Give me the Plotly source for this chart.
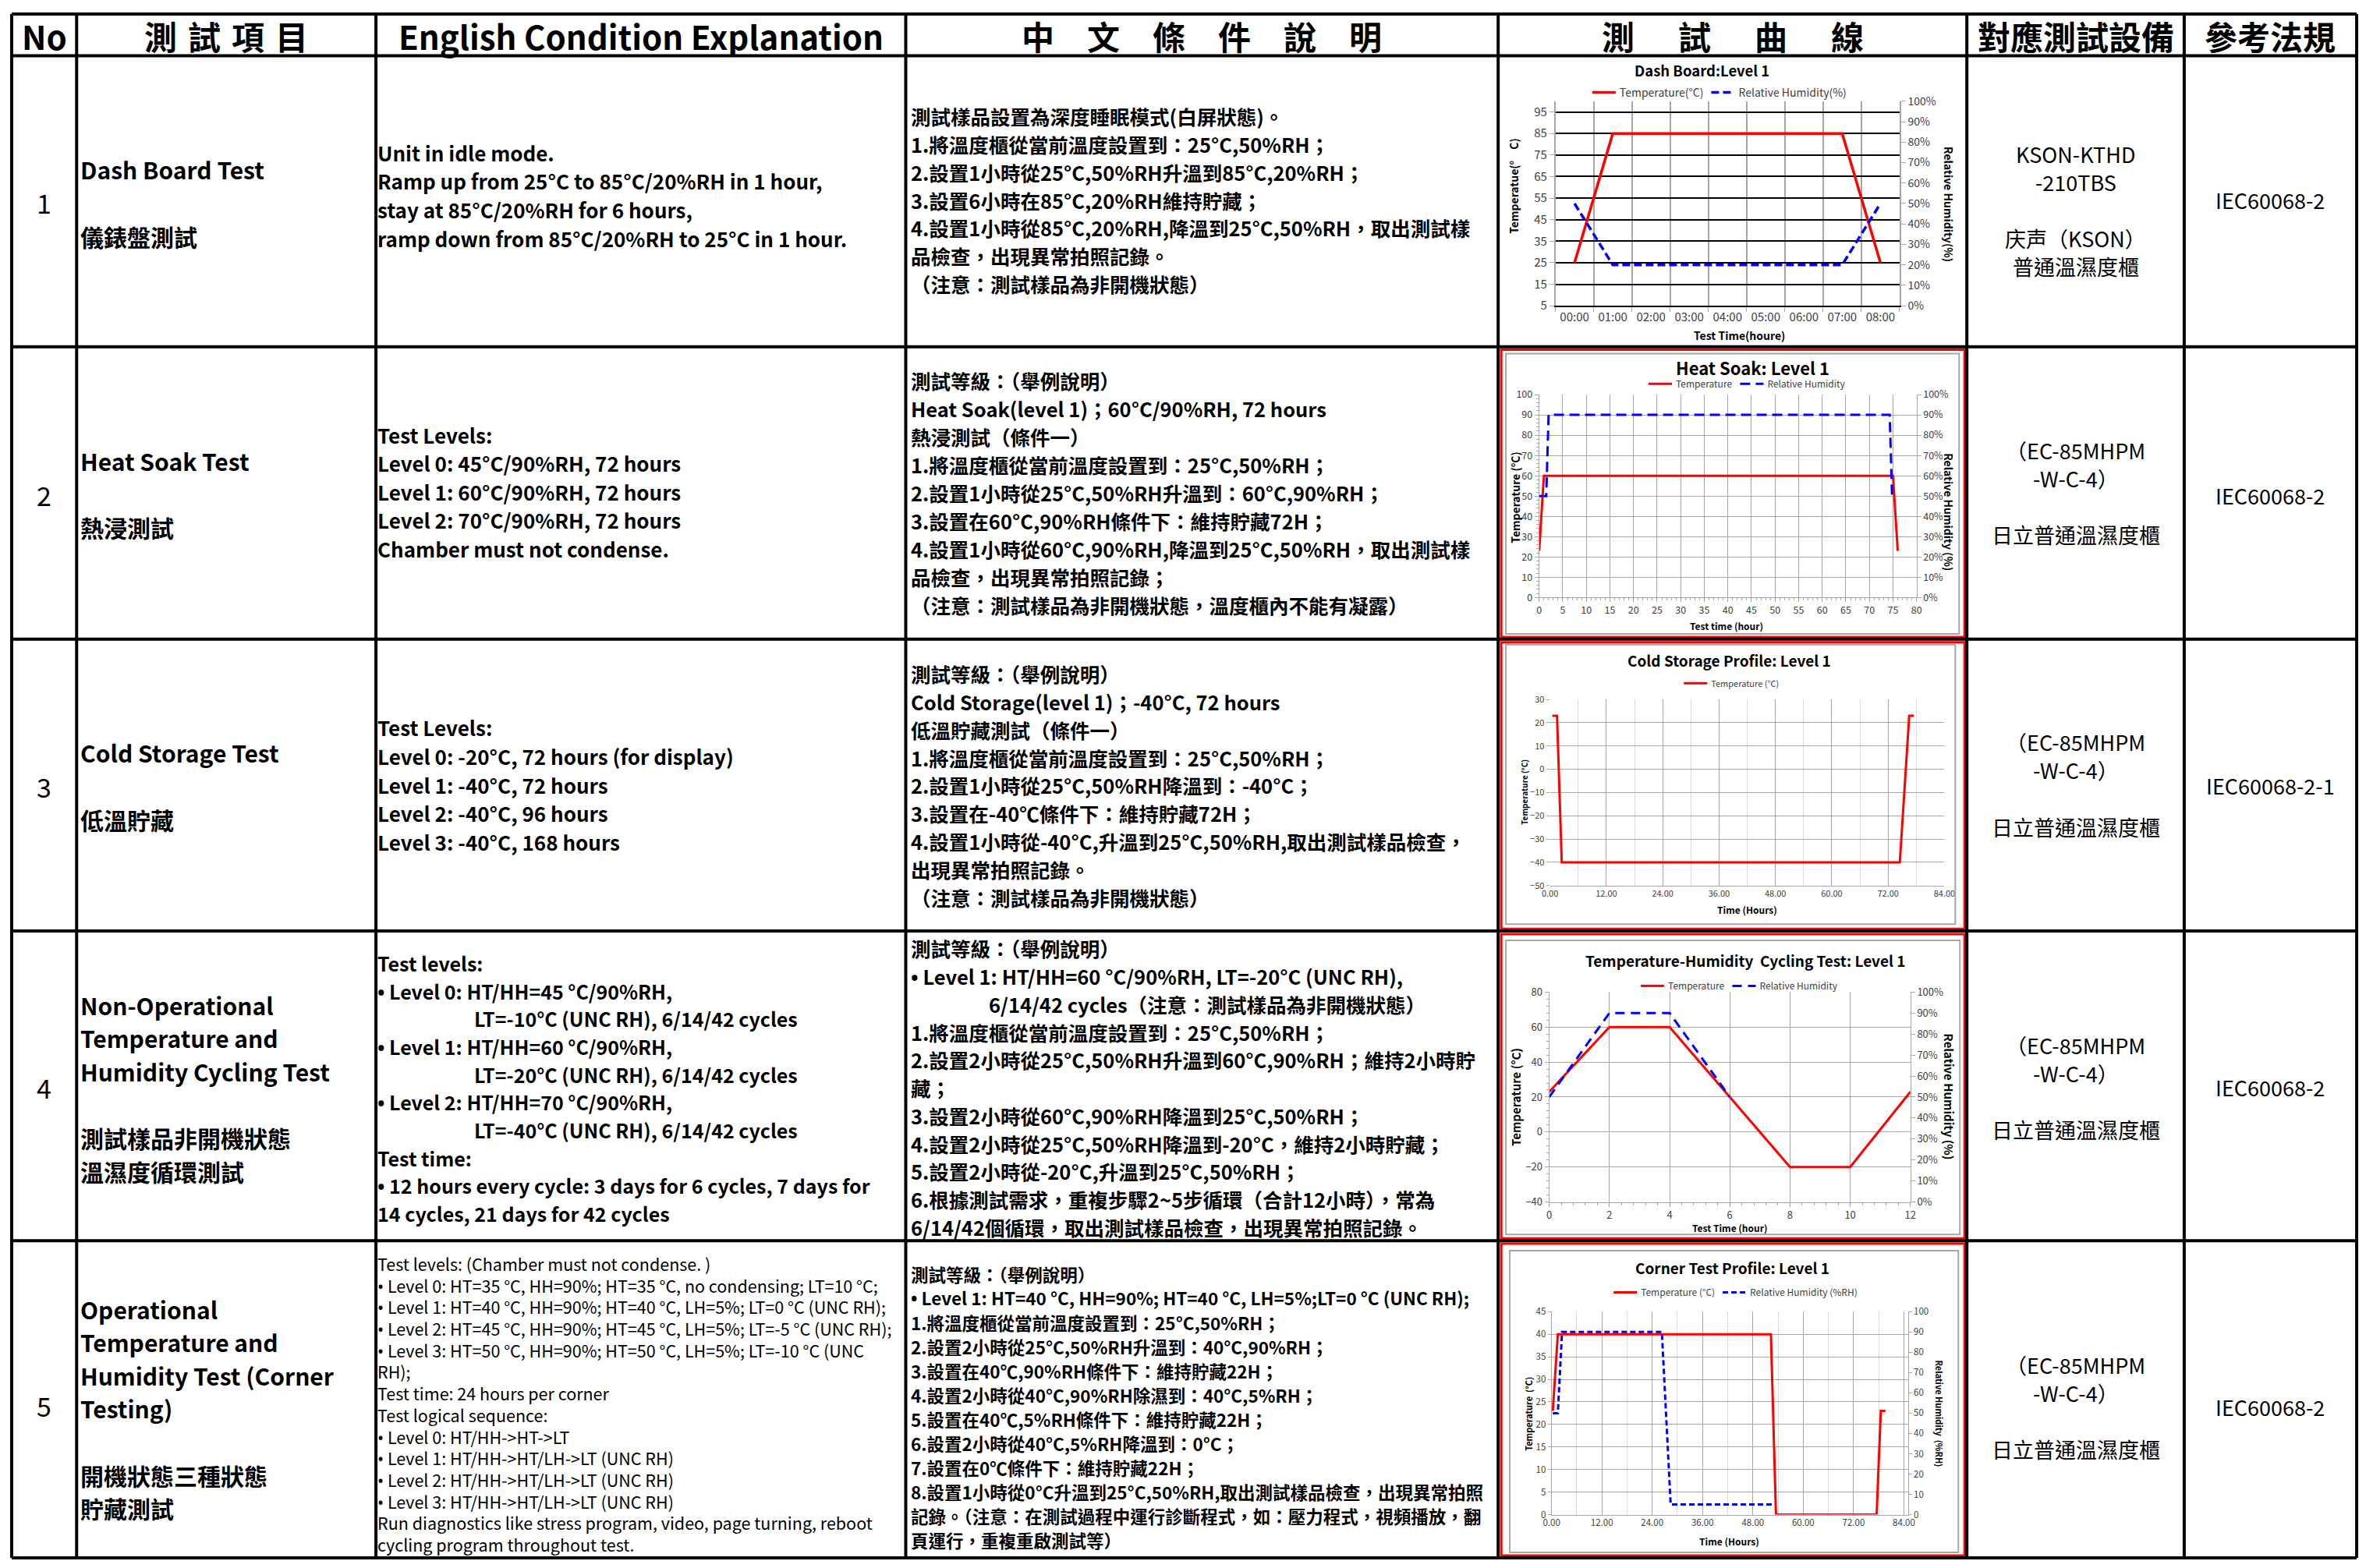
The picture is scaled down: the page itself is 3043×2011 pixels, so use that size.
import plotly.graph_objects as go

# ---------------------------------------------------------------- data
header_labels = ["No", "測\u2004試\u2004項\u2004目", "English Condition Explanation",
                 "中\u3000文\u3000條\u3000件\u3000說\u3000明", "測\u3000\u2004試\u3000\u2004曲\u3000\u2004線",
                 "對應測試設備", "參考法規"]
row_numbers = ["1", "2", "3", "4", "5"]
test_item_lines = [
    ["Dash Board Test", "", "儀錶盤測試"],
    ["Heat Soak Test", "", "熱浸測試"],
    ["Cold Storage Test", "", "低溫貯藏"],
    ["Non-Operational", "Temperature and", "Humidity Cycling Test", "", "測試樣品非開機狀態", "溫濕度循環測試"],
    ["Operational", "Temperature and", "Humidity Test (Corner", "Testing)", "", "開機狀態三種狀態", "貯藏測試"],
]
english_lines = [
    ["Unit in idle mode.", "Ramp up from 25°C to 85°C/20%RH in 1 hour,",
     "stay at 85°C/20%RH for 6 hours,", "ramp down from 85°C/20%RH to 25°C in 1 hour."],
    ["Test Levels:", "Level 0: 45°C/90%RH, 72 hours", "Level 1: 60°C/90%RH, 72 hours",
     "Level 2: 70°C/90%RH, 72 hours", "Chamber must not condense."],
    ["Test Levels:", "Level 0: -20°C, 72 hours (for display)", "Level 1: -40°C, 72 hours",
     "Level 2: -40°C, 96 hours", "Level 3: -40°C, 168 hours"],
    ["Test levels:", "• Level 0: HT/HH=45 °C/90%RH,", "LT=-10°C (UNC RH), 6/14/42 cycles",
     "• Level 1: HT/HH=60 °C/90%RH,", "LT=-20°C (UNC RH), 6/14/42 cycles",
     "• Level 2: HT/HH=70 °C/90%RH,", "LT=-40°C (UNC RH), 6/14/42 cycles", "Test time:",
     "• 12 hours every cycle: 3 days for 6 cycles, 7 days for", "14 cycles, 21 days for 42 cycles"],
    ["Test levels: (Chamber must not condense. )",
     "• Level 0: HT=35 °C, HH=90%; HT=35 °C, no condensing; LT=10 °C;",
     "• Level 1: HT=40 °C, HH=90%; HT=40 °C, LH=5%; LT=0 °C (UNC RH);",
     "• Level 2: HT=45 °C, HH=90%; HT=45 °C, LH=5%; LT=-5 °C (UNC RH);",
     "• Level 3: HT=50 °C, HH=90%; HT=50 °C, LH=5%; LT=-10 °C (UNC", "RH);",
     "Test time: 24 hours per corner", "Test logical sequence:",
     "• Level 0: HT/HH->HT->LT", "• Level 1: HT/HH->HT/LH->LT (UNC RH)",
     "• Level 2: HT/HH->HT/LH->LT (UNC RH)", "• Level 3: HT/HH->HT/LH->LT (UNC RH)",
     "Run diagnostics like stress program, video, page turning, reboot",
     "cycling program throughout test."],
]
chinese_lines = [
    ["測試樣品設置為深度睡眠模式(白屏狀態)。", "1.將溫度櫃從當前溫度設置到：25°C,50%RH；",
     "2.設置1小時從25°C,50%RH升溫到85°C,20%RH；", "3.設置6小時在85°C,20%RH維持貯藏；",
     "4.設置1小時從85°C,20%RH,降溫到25°C,50%RH，取出測試樣", "品檢查，出現異常拍照記錄。",
     "（注意：測試樣品為非開機狀態）"],
    ["測試等級：（舉例說明）", "Heat Soak(level 1)；60°C/90%RH, 72 hours", "熱浸測試（條件一）",
     "1.將溫度櫃從當前溫度設置到：25°C,50%RH；", "2.設置1小時從25°C,50%RH升溫到：60°C,90%RH；",
     "3.設置在60°C,90%RH條件下：維持貯藏72H；",
     "4.設置1小時從60°C,90%RH,降溫到25°C,50%RH，取出測試樣", "品檢查，出現異常拍照記錄；",
     "（注意：測試樣品為非開機狀態，溫度櫃內不能有凝露）"],
    ["測試等級：（舉例說明）", "Cold Storage(level 1)；-40°C, 72 hours", "低溫貯藏測試（條件一）",
     "1.將溫度櫃從當前溫度設置到：25°C,50%RH；", "2.設置1小時從25°C,50%RH降溫到：-40°C；",
     "3.設置在-40℃條件下：維持貯藏72H；", "4.設置1小時從-40°C,升溫到25°C,50%RH,取出測試樣品檢查，",
     "出現異常拍照記錄。", "（注意：測試樣品為非開機狀態）"],
    ["測試等級：（舉例說明）", "• Level 1: HT/HH=60 °C/90%RH, LT=-20°C (UNC RH),",
     "6/14/42 cycles（注意：測試樣品為非開機狀態）", "1.將溫度櫃從當前溫度設置到：25°C,50%RH；",
     "2.設置2小時從25°C,50%RH升溫到60°C,90%RH；維持2小時貯", "藏；",
     "3.設置2小時從60°C,90%RH降溫到25°C,50%RH；", "4.設置2小時從25°C,50%RH降溫到-20°C，維持2小時貯藏；",
     "5.設置2小時從-20°C,升溫到25°C,50%RH；", "6.根據測試需求，重複步驟2~5步循環（合計12小時），常為",
     "6/14/42個循環，取出測試樣品檢查，出現異常拍照記錄。"],
    ["測試等級：（舉例說明）", "• Level 1: HT=40 °C, HH=90%; HT=40 °C, LH=5%;LT=0 °C (UNC RH);",
     "1.將溫度櫃從當前溫度設置到：25°C,50%RH；", "2.設置2小時從25°C,50%RH升溫到：40°C,90%RH；",
     "3.設置在40℃,90%RH條件下：維持貯藏22H；", "4.設置2小時從40°C,90%RH除濕到：40°C,5%RH；",
     "5.設置在40℃,5%RH條件下：維持貯藏22H；", "6.設置2小時從40°C,5%RH降溫到：0°C；",
     "7.設置在0℃條件下：維持貯藏22H；", "8.設置1小時從0°C升溫到25°C,50%RH,取出測試樣品檢查，出現異常拍照",
     "記錄。（注意：在測試過程中運行診斷程式，如：壓力程式，視頻播放，翻", "頁運行，重複重啟測試等）"],
]
equipment_lines = [
    ["KSON-KTHD", "-210TBS", "", "庆声（KSON）", "普通溫濕度櫃"],
    ["（EC-85MHPM", "-W-C-4）", "", "日立普通溫濕度櫃"],
    ["（EC-85MHPM", "-W-C-4）", "", "日立普通溫濕度櫃"],
    ["（EC-85MHPM", "-W-C-4）", "", "日立普通溫濕度櫃"],
    ["（EC-85MHPM", "-W-C-4）", "", "日立普通溫濕度櫃"],
]
regulation_labels = ["IEC60068-2", "IEC60068-2", "IEC60068-2-1", "IEC60068-2", "IEC60068-2"]

# chart 1: Dash Board
dash_hours = ["00:00", "01:00", "02:00", "03:00", "04:00", "05:00", "06:00", "07:00", "08:00"]
dash_temp = [25, 85, 85, 85, 85, 85, 85, 85, 25]
dash_rh = [50, 20, 20, 20, 20, 20, 20, 20, 50]
# chart 2: Heat Soak
soak_temp_t = [0, 1, 75, 76]
soak_temp = [23, 60, 60, 23]
soak_rh_t = [0, 1.5, 2, 74.3, 74.8, 75.5]
soak_rh = [50, 50, 90, 90, 50, 50]
# chart 3: Cold Storage
cold_t = [0.5, 1.5, 2.5, 74.5, 76.5, 77.5]
cold_temp = [23, 23, -40, -40, 23, 23]
# chart 4: Temperature-Humidity cycling
cyc_t = [0, 2, 4, 6, 8, 10, 12]
cyc_temp = [23, 60, 60, 20, -20, -20, 23]
cyc_rh_t = [0, 2, 4, 6]
cyc_rh = [50, 90, 90, 50]
# chart 5: Corner test
corner_temp_t = [0.3, 1.5, 52.3, 53.5, 77.5, 78.5, 79.6]
corner_temp = [23, 40, 40, 0, 0, 23, 23]
corner_rh_t = [0.3, 1.5, 2.5, 26.3, 28.4, 52.7]
corner_rh = [50, 50, 90, 90, 5, 5]

chart_titles = ["Dash Board:Level 1", "Heat Soak: Level 1", "Cold Storage Profile: Level 1",
                "Temperature-Humidity  Cycling Test: Level 1", "Corner Test Profile: Level 1"]

# ---------------------------------------------------------------- layout helpers
W, H = 3043, 2011
FONT = "Noto Sans CJK TC"
COL_X = [4, 88, 475, 1160, 1926, 2532, 2813, 3036]
ROW_Y = [7, 61, 438, 817, 1195, 1596, 2007]
BULLET = "<span style='font-family:Noto Sans'>•</span>"

annotations = []
shapes = []


def X(v):
    return v / W


def Y(v):
    return 1 - v / H


def text(t, x, y, size, weight="bold", xanchor="left", color="black", angle=0):
    t = t.replace("•", BULLET)
    annotations.append(dict(text=t, x=X(x), y=Y(y), xref="paper", yref="paper", showarrow=False,
                            xanchor=xanchor, yanchor="middle", textangle=angle, borderpad=0,
                            font=dict(family=FONT, size=size, color=color, weight=weight)))


def block(lines, x, yc, spacing, size, weight="bold", xanchor="left", indents=None):
    n = len(lines)
    y0 = yc - (n - 1) / 2 * spacing
    for i, t in enumerate(lines):
        if t:
            dx = (indents or {}).get(i, 0)
            text(t, x + dx, y0 + i * spacing, size, weight, xanchor)


def hline(y, x0, x1, color="black", width=4):
    shapes.append(dict(type="line", xref="paper", yref="paper", x0=X(x0), x1=X(x1), y0=Y(y), y1=Y(y),
                       line=dict(color=color, width=width)))


def vline(x, y0, y1, color="black", width=4):
    shapes.append(dict(type="line", xref="paper", yref="paper", x0=X(x), x1=X(x), y0=Y(y0), y1=Y(y1),
                       line=dict(color=color, width=width)))


def rect(x0, y0, x1, y1, color, width):
    shapes.append(dict(type="rect", xref="paper", yref="paper", x0=X(x0), x1=X(x1), y0=Y(y0), y1=Y(y1),
                       line=dict(color=color, width=width), fillcolor="rgba(0,0,0,0)"))


# ---------------------------------------------------------------- table text
hc = (ROW_Y[0] + ROW_Y[1]) / 2
for i, lab in enumerate(header_labels):
    text(lab, (COL_X[i] + COL_X[i + 1]) / 2, hc + 1, 42, "bold", "center")

NUM_OFF = [2, 2, 2, 2, 8]
NAME_OFF = [2, 1.5, 1, 2.5, 12]
EN_SPACING = [37, 37, 37, 36, 28]
EN_SIZE = [26, 26, 26, 25, 21.5]
EN_WEIGHT = ["bold", "bold", "bold", "bold", "normal"]
EN_OFF = [-8, -2, -1, 3, 6]
EN_INDENT = {3: {2: 125, 4: 125, 6: 125}}
ZH_SPACING = [36.2, 36.4, 36.2, 36.1, 31.4]
ZH_SIZE = [25.5, 25.5, 25.5, 25.5, 22.5]
ZH_WEIGHT = "bold"
ZH_OFF = [-2, -1, 0, 2, 10]
ZH_INDENT = {3: {2: 100}}
EQ_OFF = [11.5, -1, -1, 2, 10]
REG_OFF = [-1.5, 3.5, 1, 1.5, 10]

for r in range(5):
    top, bot = ROW_Y[r + 1], ROW_Y[r + 2]
    yc = (top + bot) / 2
    text(row_numbers[r], (COL_X[0] + COL_X[1]) / 2, yc + NUM_OFF[r], 34, "normal", "center")
    block(test_item_lines[r], 92, yc + NAME_OFF[r], 43, 30)
    block(english_lines[r], 476, yc + EN_OFF[r], EN_SPACING[r], EN_SIZE[r], EN_WEIGHT[r],
          indents=EN_INDENT.get(r))
    block(chinese_lines[r], 1166, yc + ZH_OFF[r], ZH_SPACING[r], ZH_SIZE[r], ZH_WEIGHT,
          indents=ZH_INDENT.get(r))
    block(equipment_lines[r], (COL_X[5] + COL_X[6]) / 2, yc + EQ_OFF[r], 36.5, 27, "normal", "center")
    text(regulation_labels[r], (COL_X[6] + COL_X[7]) / 2, yc + REG_OFF[r], 27, "normal", "center")

# chart frames (rows 2-5: red cell frame and grey chart border)
for r in range(1, 5):
    rect(COL_X[4] + 4, ROW_Y[r + 1] + 4, COL_X[5] - 3, ROW_Y[r + 2] - 3, "#ff0000", 3)
rect(1936, 447, 2522, 810, "#a6a6a6", 2)
rect(1936, 824, 2517, 1186, "#a6a6a6", 2)
rect(1936, 1207, 2523, 1588, "#a6a6a6", 2)
rect(1941, 1609, 2521, 2000, "#a6a6a6", 2)

# table grid lines
for x in COL_X:
    vline(x, ROW_Y[0], ROW_Y[-1])
for y in ROW_Y:
    hline(y, COL_X[0], COL_X[-1])

# ---------------------------------------------------------------- charts
RED = "#ff0000"
BLUE = "#0000ff"
GRID = "#a6a6a6"
LIGHT = "#d9d9d9"
TICKC = "#404040"


def tf(size):
    return dict(family=FONT, size=size, color=TICKC)


fig = go.Figure()

# chart 1
fig.add_trace(go.Scatter(x=dash_hours, y=dash_temp, xaxis="x", yaxis="y", mode="lines",
                         line=dict(color=RED, width=3.5), name="Temperature(°C)", legend="legend"))
fig.add_trace(go.Scatter(x=dash_hours, y=dash_rh, xaxis="x", yaxis="y2", mode="lines",
                         line=dict(color=BLUE, width=3.5, dash="10px,5px"), name="Relative Humidity(%)",
                         legend="legend"))
# chart 2
fig.add_trace(go.Scatter(x=soak_temp_t, y=soak_temp, xaxis="x2", yaxis="y3", mode="lines",
                         line=dict(color=RED, width=3), name="Temperature", legend="legend2"))
fig.add_trace(go.Scatter(x=soak_rh_t, y=soak_rh, xaxis="x2", yaxis="y4", mode="lines",
                         line=dict(color=BLUE, width=3, dash="13px,7px"), name="Relative Humidity",
                         legend="legend2"))
# chart 3
fig.add_trace(go.Scatter(x=cold_t, y=cold_temp, xaxis="x3", yaxis="y5", mode="lines",
                         line=dict(color=RED, width=3), name="Temperature (°C)", legend="legend3"))
# chart 4
fig.add_trace(go.Scatter(x=cyc_t, y=cyc_temp, xaxis="x4", yaxis="y6", mode="lines",
                         line=dict(color=RED, width=3), name="Temperature", legend="legend4"))
fig.add_trace(go.Scatter(x=cyc_rh_t, y=cyc_rh, xaxis="x4", yaxis="y7", mode="lines",
                         line=dict(color=BLUE, width=3, dash="12px,8px"), name="Relative Humidity",
                         legend="legend4"))
# chart 5
fig.add_trace(go.Scatter(x=corner_temp_t, y=corner_temp, xaxis="x5", yaxis="y8", mode="lines",
                         line=dict(color=RED, width=3), name="Temperature (°C)", legend="legend5"))
fig.add_trace(go.Scatter(x=corner_rh_t, y=corner_rh, xaxis="x5", yaxis="y9", mode="lines",
                         line=dict(color=BLUE, width=3, dash="7px,4px"), name="Relative Humidity (%RH)",
                         legend="legend5"))

common = dict(zeroline=False, fixedrange=True)
axes = {}
# chart 1 axes
axes["xaxis"] = dict(domain=[X(2000), X(2445)], anchor="y", type="category", tickson="boundaries",
                     range=[-0.5, 8.5], showgrid=True, gridcolor=GRID, gridwidth=1.5, ticks="outside",
                     ticklen=6, tickcolor=GRID, showline=True, linecolor="black", linewidth=1.5,
                     tickfont=tf(15), **common)
axes["yaxis"] = dict(domain=[Y(385), Y(120)], anchor="x", range=[5, 100], tickmode="array",
                     tickvals=list(range(5, 100, 10)), showgrid=True, gridcolor="black", gridwidth=1.5,
                     showline=True, linecolor=GRID, linewidth=1.5, ticks="outside", ticklen=6,
                     tickcolor=GRID, tickfont=tf(15), **common)
axes["yaxis2"] = dict(overlaying="y", side="right", anchor="x", range=[0, 100], dtick=10,
                      ticksuffix="%", showgrid=False, showline=True, linecolor=GRID, linewidth=1.5,
                      ticks="outside", ticklen=6, tickcolor=GRID, tickfont=tf(14), **common)
# chart 2 axes
axes["xaxis2"] = dict(domain=[X(1979), X(2467)], anchor="y3", range=[0, 80], dtick=5, tick0=0,
                      showgrid=True, gridcolor=GRID, gridwidth=1.2, showline=True, linecolor=GRID,
                      ticks="outside", ticklen=5, tickcolor=GRID,
                      minor=dict(dtick=1, ticks="outside", ticklen=3, tickcolor=GRID, showgrid=False),
                      tickfont=tf(12.5), **common)
axes["yaxis3"] = dict(domain=[Y(763), Y(500)], anchor="x2", range=[0, 100], dtick=10, showgrid=True,
                      gridcolor=GRID, gridwidth=1.2, showline=True, linecolor=GRID, ticks="outside",
                      ticklen=5, tickcolor=GRID,
                      minor=dict(dtick=2, ticks="outside", ticklen=3, tickcolor=GRID, showgrid=False),
                      tickfont=tf(12.5), **common)
axes["yaxis4"] = dict(overlaying="y3", side="right", anchor="x2", range=[0, 100], dtick=10,
                      ticksuffix="%", showgrid=False, showline=True, linecolor=GRID, ticks="outside",
                      ticklen=5, tickcolor=GRID, tickfont=tf(12.5), **common)
# chart 3 axes
axes["xaxis3"] = dict(domain=[X(1993), X(2503)], anchor="y5", range=[0, 84], dtick=12, tick0=0,
                      tickformat=".2f", showgrid=True, gridcolor=GRID, gridwidth=1.2,
                      minor=dict(dtick=6, showgrid=True, gridcolor=LIGHT, gridwidth=1.2),
                      showline=True, linecolor=GRID, ticks="", tickfont=tf(11), **common)
axes["yaxis5"] = dict(domain=[Y(1136), Y(895)], anchor="x3", range=[-50, 30], dtick=10, showgrid=True,
                      gridcolor=GRID, gridwidth=1.2, showline=False, ticks="outside", ticklen=4,
                      tickcolor=GRID, tickfont=tf(11), **common)
# chart 4 axes
axes["xaxis4"] = dict(domain=[X(1992), X(2459)], anchor="y6", range=[0, 12], dtick=2, tick0=0,
                      showgrid=True, gridcolor=GRID, gridwidth=1.2, showline=True, linecolor=GRID,
                      ticks="outside", ticklen=5, tickcolor=GRID,
                      minor=dict(dtick=0.4, ticks="outside", ticklen=3, tickcolor=GRID, showgrid=False),
                      tickfont=tf(13), **common)
axes["yaxis6"] = dict(domain=[Y(1546), Y(1274)], anchor="x4", range=[-40, 80], dtick=20, showgrid=True,
                      gridcolor=GRID, gridwidth=1.2, showline=True, linecolor=GRID, ticks="outside",
                      ticklen=5, tickcolor=GRID,
                      minor=dict(dtick=4, ticks="outside", ticklen=3, tickcolor=GRID, showgrid=False),
                      tickfont=tf(13), **common)
axes["yaxis7"] = dict(overlaying="y6", side="right", anchor="x4", range=[0, 100], dtick=10,
                      ticksuffix="%", showgrid=False, showline=True, linecolor=GRID, ticks="outside",
                      ticklen=5, tickcolor=GRID, tickfont=tf(13), **common)
# chart 5 axes
axes["xaxis5"] = dict(domain=[X(1995), X(2456)], anchor="y8", range=[0, 85], dtick=12, tick0=0,
                      tickformat=".2f", showgrid=True, gridcolor=GRID, gridwidth=1.2,
                      minor=dict(dtick=6, showgrid=True, gridcolor=LIGHT, gridwidth=1.2),
                      showline=True, linecolor=GRID, ticks="", tickfont=tf(11.5), **common)
axes["yaxis8"] = dict(domain=[Y(1951), Y(1688)], anchor="x5", range=[0, 45], dtick=5, showgrid=True,
                      gridcolor=GRID, gridwidth=1.2, showline=True, linecolor=GRID, ticks="outside",
                      ticklen=4, tickcolor=GRID, tickfont=tf(11.5), **common)
axes["yaxis9"] = dict(overlaying="y8", side="right", anchor="x5", range=[0, 100], dtick=10,
                      showgrid=False, showline=True, linecolor=GRID, ticks="outside", ticklen=4,
                      tickcolor=GRID, tickfont=tf(11.5), **common)

# chart titles and axis titles
title_pos = [(2189, 80, 18.5), (2255, 465, 22), (2225, 844, 19), (2245, 1233, 19), (2229, 1631, 19)]
for t, (x, y, s) in zip(chart_titles, title_pos):
    text(t, x, y, s, "bold", "center")

text("Temperatue(°\u3000C)", 1946, 230, 14, "bold", "center", angle=-90)
text("Relative Humidity(%)", 2508, 254, 14, "bold", "center", angle=90)
text("Test Time(houre)", 2238, 423, 14, "bold", "center")

text("Temperature (°C)", 1948, 633, 14, "bold", "center", angle=-90)
text("Relative Humidity (%)", 2509, 652, 14, "bold", "center", angle=90)
text("Test time (hour)", 2221, 799, 12, "bold", "center")

text("Temperature (°C)", 1960, 1015, 10, "bold", "center", angle=-90)
text("Time (Hours)", 2248, 1167, 12, "bold", "center")

text("Temperature (°C)", 1949, 1410, 15, "bold", "center", angle=-90)
text("Relative Humidity (%)", 2509, 1410, 15, "bold", "center", angle=90)
text("Test Time (hour)", 2225, 1579, 12, "bold", "center")

text("Temperature  (°C)", 1965, 1820, 11, "bold", "center", angle=-90)
text("Relative Humidity  (%RH)", 2497, 1820, 11, "bold", "center", angle=90)
text("Time (Hours)", 2225, 1985, 12, "bold", "center")


def leg(x, y, size, iw=30):
    return dict(x=X(x), y=Y(y), xanchor="center", yanchor="middle", orientation="h",
                font=dict(family=FONT, size=size, color=TICKC), bgcolor="rgba(0,0,0,0)",
                borderwidth=0, itemwidth=iw, tracegroupgap=0)


fig.update_layout(
    width=W, height=H, autosize=False,
    margin=dict(l=0, r=0, t=0, b=0, pad=0),
    paper_bgcolor="white", plot_bgcolor="white",
    showlegend=True,
    legend=leg(2212, 109, 14),
    legend2=leg(2248, 486, 12),
    legend3=leg(2228, 874, 11),
    legend4=leg(2238, 1266, 12),
    legend5=leg(2233, 1663, 12),
    annotations=annotations,
    shapes=shapes,
    **axes,
)

fig.write_html("out.html", config={"displayModeBar": False},
               post_script="document.body.style.margin='0';document.body.style.overflow='hidden';")
